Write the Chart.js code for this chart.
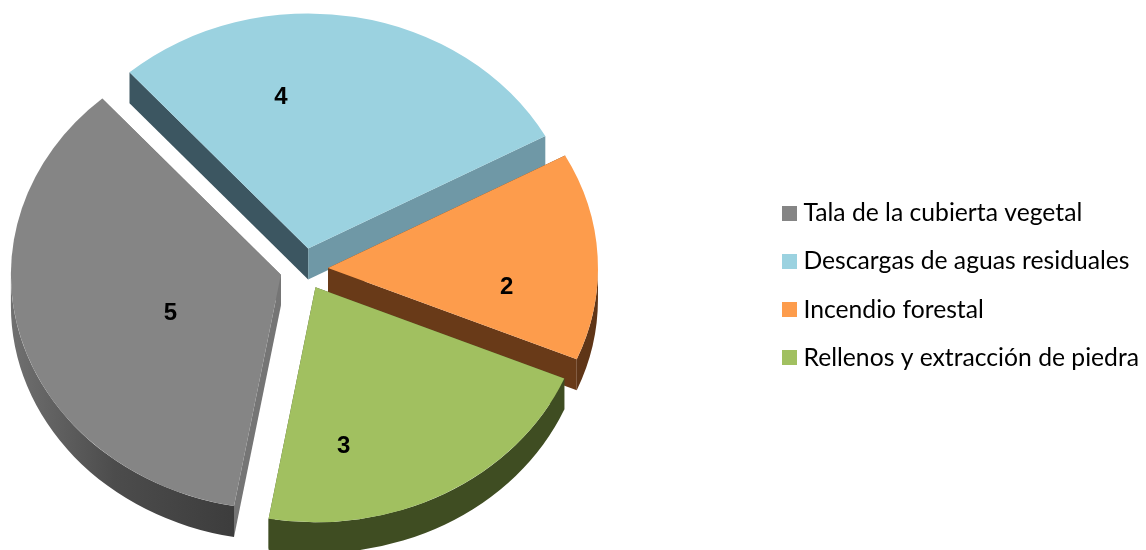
<!DOCTYPE html>
<html><head><meta charset="utf-8">
<style>html,body{margin:0;padding:0;background:#fff}canvas{display:block}</style>
<script src="https://cdn.jsdelivr.net/npm/chart.js@4"></script>
</head><body><canvas id="c" width="1146" height="550"></canvas>
<script>
const categories = ['Tala de la cubierta vegetal','Descargas de aguas residuales','Incendio forestal','Rellenos y extracción de piedra'];
const values = [5,4,2,3];
const topColors = ['#858585','#9bd2e0','#fd9c4c','#a1c060'];
const outerWalls = [['#707070','#4c4c4c','#333333'],['#6f98a6','#6f98a6','#6f98a6'],['#5f3517','#5f3517','#5f3517'],['#3f4d22','#3f4d22','#3f4d22']];
const startWalls = ['#757575','#3c5661','#6b3c1a','#46552a'];
const endWalls = ['#757575','#6f98a6','#693a18','#46552a'];
const labelAngleShift = [-6,-18.9,10,19.8];
const labelRadiusFrac = [0.44,0.652,0.667,0.687];
const CX=304, CY=269, SQUASH=0.87, DEPTH=31, RADIUS=270, EXPLODE=24;
const TAU=Math.PI*2;

function legendSwatch(color){
  const s=document.createElement('canvas'); s.width=15; s.height=15;
  const g=s.getContext('2d'); g.fillStyle=color; g.fillRect(0,0,15,15); return s;
}
const midOf=a=>(a.startAngle+a.endAngle)/2;
const pie3d={
  id:'pie3d',
  afterDatasetsUpdate(chart){
    // explode every slice by the same distance, from the centre the library computed
    const arcs=chart.getDatasetMeta(0).data;
    chart.$base={x:arcs[0].x,y:arcs[0].y};
    arcs.forEach(a=>{const m=midOf(a);a.x+=Math.cos(m)*EXPLODE;a.y+=Math.sin(m)*EXPLODE;});
  },
  beforeDatasetsDraw(chart){
    const ctx=chart.ctx, arcs=chart.getDatasetMeta(0).data;
    [1,2,0,3].forEach(i=>{
      const a=arcs[i], mid=midOf(a);
      const x=CX+Math.cos(mid)*EXPLODE, y=CY+Math.sin(mid)*EXPLODE*SQUASH;
      const s=((a.startAngle%TAU)+TAU)%TAU, e=s+(a.endAngle-a.startAngle);
      const rim=t=>[x+Math.cos(t)*RADIUS,y+Math.sin(t)*RADIUS*SQUASH];
      const wall=(t,col)=>{const p=rim(t);ctx.beginPath();ctx.moveTo(x,y);ctx.lineTo(p[0],p[1]);ctx.lineTo(p[0],p[1]+DEPTH);ctx.lineTo(x,y+DEPTH);ctx.closePath();ctx.fillStyle=col;ctx.fill();};
      wall(s,startWalls[i]); wall(e,endWalls[i]);
      [[0,Math.PI],[TAU,TAU+Math.PI]].forEach(([lo,hi])=>{
        const f=Math.max(s,lo), t=Math.min(e,hi);
        if(f>=t) return;
        const g=ctx.createLinearGradient(x-RADIUS,0,x+RADIUS*0.1,0);
        g.addColorStop(0,outerWalls[i][0]);g.addColorStop(0.35,outerWalls[i][1]);g.addColorStop(1,outerWalls[i][2]);
        ctx.beginPath();
        ctx.ellipse(x,y,RADIUS,RADIUS*SQUASH,0,f,t);
        ctx.ellipse(x,y+DEPTH,RADIUS,RADIUS*SQUASH,0,t,f,true);
        ctx.closePath();ctx.fillStyle=g;ctx.fill();
      });
    });
    ctx.save();
    ctx.translate(CX,CY);ctx.scale(1,SQUASH);ctx.translate(-chart.$base.x,-chart.$base.y);
  },
  afterDatasetsDraw(chart){
    const ctx=chart.ctx, arcs=chart.getDatasetMeta(0).data;
    ctx.restore();
    ctx.save();
    ctx.font='bold 24px "Liberation Sans"';ctx.fillStyle='#000';ctx.textAlign='center';ctx.textBaseline='middle';
    arcs.forEach((a,i)=>{
      const mid=midOf(a), x=CX+Math.cos(mid)*EXPLODE, y=CY+Math.sin(mid)*EXPLODE*SQUASH;
      const t=mid+labelAngleShift[i]*Math.PI/180, r=RADIUS*labelRadiusFrac[i];
      ctx.fillText(String(values[i]),x+Math.cos(t)*r,y+Math.sin(t)*r*SQUASH);
    });
    ctx.restore();
  }
};
new Chart(document.getElementById('c'),{
  type:'pie',
  data:{labels:categories,datasets:[{data:values,backgroundColor:topColors,borderWidth:0,clip:false}]},
  options:{
    responsive:false,animation:false,radius:RADIUS,rotation:190,
    layout:{padding:{top:21,right:-3}},
    plugins:{
      tooltip:{enabled:false},
      legend:{position:'right',labels:{
        usePointStyle:true,pointStyleWidth:4,padding:23.4,color:'#111',
        font:{family:'Lato',size:24.7},
        generateLabels:()=>categories.map((c,i)=>({text:c,fillStyle:topColors[i],strokeStyle:topColors[i],lineWidth:0,hidden:false,index:i,pointStyle:legendSwatch(topColors[i])}))
      }}
    }
  },
  plugins:[pie3d]
});
</script></body></html>
